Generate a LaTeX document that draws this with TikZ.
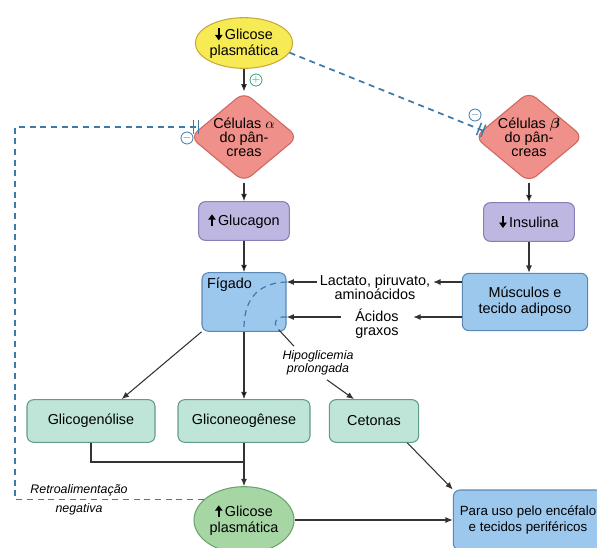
\documentclass[tikz,border=0pt]{standalone}
\usepackage{fontspec}
\setmainfont{Liberation Sans}
\usetikzlibrary{shapes.geometric,arrows.meta}

\definecolor{yellowFill}{HTML}{F6EA55}
\definecolor{yellowEdge}{HTML}{C8A93A}
\definecolor{redFill}{HTML}{F0908A}
\definecolor{redEdge}{HTML}{CF675F}
\definecolor{purpleFill}{HTML}{BDB7E2}
\definecolor{purpleEdge}{HTML}{8580B5}
\definecolor{blueFill}{HTML}{9DC8EE}
\definecolor{blueEdge}{HTML}{5B87B5}
\definecolor{tealFill}{HTML}{BFE5D8}
\definecolor{tealEdge}{HTML}{5F9C8C}
\definecolor{greenFill}{HTML}{A6D6A4}
\definecolor{greenEdge}{HTML}{6BA36B}
\definecolor{fbBlue}{HTML}{3D7AA8}
\definecolor{plusGreen}{HTML}{2FA37A}
\definecolor{lineGray}{HTML}{333333}

% setas grossas dentro do texto
\newcommand{\arrUp}{\tikz[baseline=0pt,x=1pt,y=1pt]\draw[line width=1.4pt,-{Triangle[length=4pt,width=5.5pt]}] (0,-0.5) -- (0,8.5);\,}
\newcommand{\arrDown}{\tikz[baseline=0pt,x=1pt,y=1pt]\draw[line width=1.4pt,-{Triangle[length=4pt,width=5.5pt]}] (0,8.5) -- (0,-0.5);\,}

\tikzset{
  >={Latex[length=5.5pt,width=4.5pt]},
  every node/.style={font=\fontsize{10.8}{12}\selectfont, align=center},
  glucose/.style={ellipse, draw=yellowEdge, fill=yellowFill, line width=0.8pt,
    inner sep=0pt, minimum width=65pt, minimum height=38pt},
  glucoseUp/.style={ellipse, draw=greenEdge, fill=greenFill, line width=0.8pt,
    inner sep=0pt, minimum width=75pt, minimum height=50pt},
  islet/.style={diamond, aspect=1.2, rounded corners=7pt, draw=redEdge, fill=redFill,
    line width=0.8pt, inner sep=0pt, minimum width=73pt, minimum height=62pt,
    font=\fontsize{10.8}{10.5}\selectfont},
  hormone/.style={rectangle, rounded corners=5pt, draw=purpleEdge, fill=purpleFill,
    line width=0.8pt, minimum width=68pt, minimum height=29pt},
  organ/.style={rectangle, rounded corners=5pt, draw=blueEdge, fill=blueFill,
    line width=0.8pt},
  process/.style={rectangle, rounded corners=5pt, draw=tealEdge, fill=tealFill,
    line width=0.8pt, minimum height=32pt},
  carrier/.style={inner sep=2pt, font=\fontsize{10.8}{10.5}\selectfont},
  note/.style={font=\fontsize{9.3}{9.5}\selectfont\itshape},
  sign/.style={circle, line width=0.6pt, inner sep=0pt, minimum size=9pt,
    font=\fontsize{8}{8}\selectfont},
  flow/.style={->, draw=lineGray, line width=0.8pt},
  link/.style={draw=lineGray, line width=0.8pt},
  feedback/.style={draw=fbBlue, line width=1.3pt, dash pattern=on 4.5pt off 3.5pt},
  blocks/.style={-{Bar[width=10pt,line width=1.1pt,sep=2.4pt]Bar[width=10pt,line width=1.1pt]}}
}

\begin{document}
\begin{tikzpicture}[x=0.75pt,y=-0.75pt]
    \useasboundingbox (0,0) rectangle (597,547);

    \node[glucose] (gpA) at (244,43) {\arrDown Glicose\\plasmática};
    \node[islet] (alpha) at (244,137) {Células $\alpha$\\do pân-\\creas};
    \node[islet] (beta) at (529,137) {Células {\boldmath$\beta$}\\do pân-\\creas};
    \node[hormone] (glucagon) at (244,221) {\arrUp Glucagon};
    \node[hormone] (insulina) at (529,222) {\arrDown Insulina};
    \node[organ, minimum width=63pt, minimum height=44pt,
      label={[anchor=north west, inner sep=4pt]north west:Fígado}] (fig) at (244,302) {};
    \node[organ, minimum width=94pt, minimum height=43pt] (mus) at (525,302) {Músculos e\\tecido adiposo};
    \node[carrier] (lact) at (375,287) {Lactato, piruvato,\\aminoácidos};
    \node[carrier, minimum width=54pt] (grax) at (377,324) {Ácidos\\graxos};
    \node[note] (hipo) at (318,363) {Hipoglicemia\\prolongada};
    \node[process, minimum width=96pt] (glico) at (91,421) {Glicogenólise};
    \node[process, minimum width=99pt] (neo) at (244,421) {Gliconeogênese};
    \node[process, minimum width=67pt] (ceto) at (374,421) {Cetonas};
    \node[glucoseUp] (gpB) at (244,520) {\arrUp Glicose\\plasmática};
    \node[organ, minimum width=112pt, minimum height=45pt,
      font=\fontsize{10}{12}\selectfont] (para) at (528,520) {Para uso pelo encéfalo\\e tecidos periféricos};

    % sinais de regulacao
    \node[sign, draw=plusGreen, text=plusGreen] (plusA) at (256,80) {$+$};
    \node[sign, draw=fbBlue, text=fbBlue] (minusA) at (187,138) {$-$};
    \node[sign, draw=fbBlue, text=fbBlue] (minusB) at (475,115) {$-$};

    \coordinate (row1) at (0,282);
    \coordinate (row2) at (0,317);
    \coordinate (alphaIn) at (199,127);
    \coordinate (betaIn) at (484,131);
    \coordinate (fbHigh) at (15,127);
    \coordinate (jn) at (244,462);
    \coordinate (hookEnd) at (279,330);

    \path [flow] (gpA) edge (alpha);
    \path [flow] (alpha) edge (glucagon);
    \path [flow] (glucagon) edge (fig);
    \path [flow] (beta) edge (insulina);
    \draw [flow] (insulina.south) -- (insulina.south |- mus.north);
    \draw [flow] (mus.west |- row1) -- (lact.east |- row1);
    \draw [flow] (lact.west |- row1) -- (fig.east |- row1);
    \draw [flow] (mus.west |- row2) -- (grax.east |- row2);
    \draw [flow] (grax.west |- row2) -- (fig.east |- row2);
    \draw [flow] (fig.south west) -- ([xshift=23pt]glico.north);
    \path [flow] (fig) edge (neo);
    \draw [flow] (hipo.-62) -- ([xshift=-15pt]ceto.north);
    \draw [flow] ([xshift=25pt]ceto.south) -- (para.north west);
    \draw [link] (glico.south) |- (jn);
    \draw [flow] (neo.south) -- (gpB.north);
    \draw [flow] (gpB.east) -- (para.west);

    % vias no figado
    \draw [feedback, line width=0.9pt] (fig.east |- row1) .. controls (257,283) and (243,300) .. (fig.south);
    \draw [feedback, line width=0.9pt] (fig.east |- row2) .. controls (274,316) and (273,325) .. (hookEnd);
    \draw [link] (hookEnd) -- (hipo.145);

    % retroalimentacao
    \draw [feedback, blocks] (gpA.-12) -- (betaIn);
    \draw [feedback, blocks] (gpB.153) -| (fbHigh) -- (alphaIn);
    \node[note] (retro) at (79,500) {Retroalimentação\\[4.5pt]negativa};
\end{tikzpicture}
\end{document}
